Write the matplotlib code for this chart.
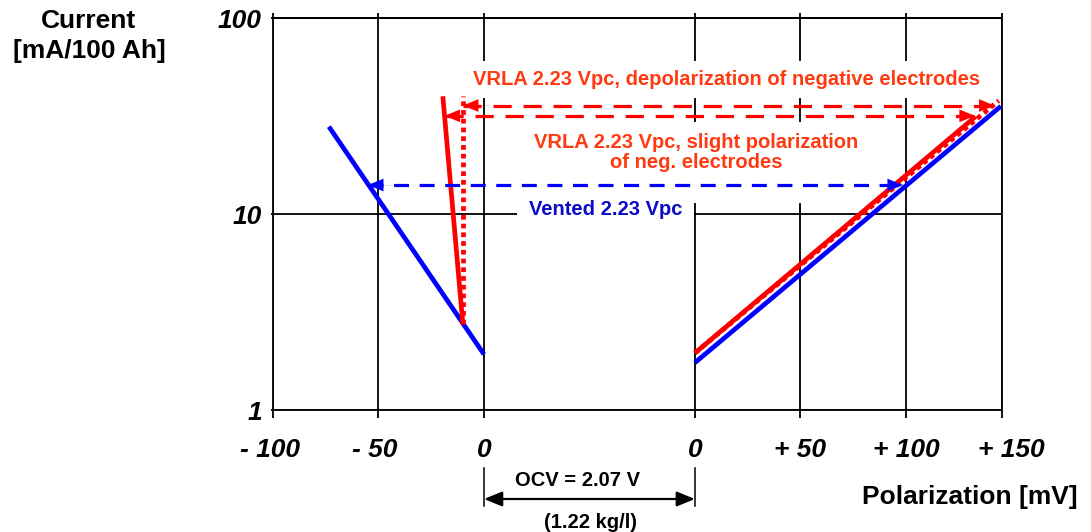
import matplotlib
matplotlib.use("Agg")
import matplotlib.pyplot as plt
import matplotlib.transforms as mtransforms
from matplotlib.lines import Line2D

plt.rcParams['font.family'] = ['Liberation Sans', 'DejaVu Sans']

# Polarization (mV) versus float current (mA per 100 Ah)
# Negative electrode branch (left of OCV) and positive electrode branch (right of OCV)
vented_neg_mv = [-73.5, 0.0]
vented_neg_cur = [28.0, 1.93]
vented_pos_mv = [0.0, 145.0]
vented_pos_cur = [1.75, 35.6]

vrla_depol_neg_mv = [-10.0, -19.5]
vrla_depol_neg_cur = [2.75, 40.0]
vrla_depol_pos_mv = [0.0, 133.0]
vrla_depol_pos_cur = [1.96, 31.5]

vrla_slight_neg_mv = [-10.0, -10.0]
vrla_slight_neg_cur = [2.75, 40.0]
vrla_slight_pos_mv = [0.0, 144.0]
vrla_slight_pos_cur = [1.96, 38.0]

# Double arrows at a float current: (current, negative-side mV, positive-side mV)
vented_arrow = (14.1, -55.0, 98.6)
depol_arrow = (31.8, -18.7, 132.7)
slight_arrow = (35.9, -10.0, 142.0)

neg_ticks = [-100, -50, 0]
pos_ticks = [0, 50, 100, 150]
neg_tick_labels = ['- 100', '- 50', '0']
pos_tick_labels = ['0', '+ 50', '+ 100', '+ 150']
y_ticks = [1, 10, 100]
y_tick_labels = ['1', '10', '100']

# The two electrode scales are drawn side by side, separated by the OCV gap
OCV_GAP = 100.0
POS_END_MV = 145.4

W, H = 1091, 532
BLUE = '#0000FF'
RED = '#FF0000'
RED_TXT = '#FF3A10'
BLUE_TXT = '#0A0ACC'


def pos(mv):
    return [m + OCV_GAP for m in mv]


fig = plt.figure(figsize=(W / 100, H / 100), dpi=100)
ax_l, ax_r, ax_t, ax_b = 273, 1001.7, 18.3, 410.3
ax = fig.add_axes([ax_l / W, 1 - ax_b / H, (ax_r - ax_l) / W, (ax_b - ax_t) / H])
ax.set_yscale('log')
ax.set_xlim(-100, POS_END_MV + OCV_GAP)
ax.set_ylim(1, 100)

grid_x = neg_ticks + pos([0, 50, 100]) + [POS_END_MV + OCV_GAP]
ax.set_xticks(grid_x)
ax.set_xticklabels([])
ax.set_yticks(y_ticks)
ax.yaxis.set_minor_locator(matplotlib.ticker.NullLocator())
ax.set_yticklabels(y_tick_labels, fontsize=19, fontweight='bold', fontstyle='italic')
ax.grid(True, color='black', lw=1.3)
for s in ax.spines.values():
    s.set_linewidth(1.3)
ax.tick_params(axis='x', length=5.8, width=1.3, direction='out')
ax.tick_params(axis='y', length=1.6, width=1.3, pad=6.5, direction='out')

top = ax.secondary_xaxis('top')
top.set_xticks(grid_x)
top.set_xticklabels([])
top.tick_params(length=3.6, width=1.3)
top.spines['top'].set_linewidth(1.3)

# x tick labels for both electrode scales
label_kw = dict(xycoords=('data', 'axes fraction'), textcoords='offset points',
                ha='center', va='baseline', fontsize=19, fontweight='bold',
                fontstyle='italic', annotation_clip=False)
for mv, lab in zip(neg_ticks, neg_tick_labels):
    ax.annotate(lab, xy=(mv, 0), xytext=(-2.5 if mv < 0 else 0, -33.8), **label_kw)
for mv, lab in zip(pos(pos_ticks), pos_tick_labels):
    ax.annotate(lab, xy=(mv, 0), xytext=(0, -33.8), **label_kw)

# characteristic lines
lw = 3.4
dot = (0, (1, 0.85))
ax.plot(vented_neg_mv, vented_neg_cur, color=BLUE, lw=lw, zorder=4, solid_capstyle='butt')
ax.plot(pos(vented_pos_mv), vented_pos_cur, color=BLUE, lw=lw, zorder=4, solid_capstyle='butt')
ax.plot(vrla_slight_neg_mv, vrla_slight_neg_cur, color=RED, lw=lw, ls=dot, zorder=5)
ax.plot(pos(vrla_slight_pos_mv), vrla_slight_pos_cur, color=RED, lw=lw, ls=dot, zorder=5)
ax.plot(vrla_depol_neg_mv, vrla_depol_neg_cur, color=RED, lw=lw, zorder=5, solid_capstyle='butt')
ax.plot(pos(vrla_depol_pos_mv), vrla_depol_pos_cur, color=RED, lw=lw, zorder=5, solid_capstyle='butt')

HEAD = '-|>,head_length=1.1,head_width=0.45'


def double_arrow(spec, color, dashes):
    cur, x0, x1 = spec
    ax.plot([x0, x1 + OCV_GAP], [cur, cur], color=color, lw=2.3,
            ls=(0, dashes), zorder=6)
    for xa, xb in ((x0 + 12, x0), (x1 + OCV_GAP - 12, x1 + OCV_GAP)):
        ax.annotate('', xy=(xb, cur), xytext=(xa, cur),
                    arrowprops=dict(arrowstyle=HEAD, color=color, lw=0.1,
                                    shrinkA=0, shrinkB=0, mutation_scale=10),
                    zorder=6)


double_arrow(vented_arrow, BLUE, (4.7, 3.3))
double_arrow(depol_arrow, RED, (5.7, 3.7))
double_arrow(slight_arrow, RED, (5.7, 3.7))


def ax_pt(px, py):
    return (px - ax_l) / (ax_r - ax_l), (ax_b - py) / (ax_b - ax_t)


txt_kw = dict(transform=ax.transAxes, fontsize=14.5, fontweight='bold', zorder=2)
ax.text(*ax_pt(727, 85), 'VRLA 2.23 Vpc, depolarization of negative electrodes',
        color=RED_TXT, ha='center', va='baseline',
        bbox=dict(boxstyle='square,pad=0.45', fc='white', ec='none'), **txt_kw)
ax.text(*ax_pt(696, 133), 'VRLA 2.23 Vpc, slight polarization\nof neg. electrodes\n',
        color=RED_TXT, ha='center', va='top', linespacing=1.08,
        bbox=dict(boxstyle='square,pad=0.55', fc='white', ec='none'), **txt_kw)
ax.text(*ax_pt(605.5, 215), 'Vented 2.23 Vpc', color=BLUE_TXT, ha='center',
        va='baseline', bbox=dict(boxstyle='square,pad=0.6', fc='white', ec='none'),
        **txt_kw)

# axis titles
fig.text(89 / W, 1 - 9.5 / H, 'Current\n[mA/100 Ah]', ha='center', va='top',
         fontsize=19, fontweight='bold', linespacing=1.28, multialignment='center')
fig.text(1078 / W, 1 - 504 / H, 'Polarization [mV]', ha='right', va='baseline',
         fontsize=19, fontweight='bold')

# open-circuit voltage span between the two zero points
blend = mtransforms.blended_transform_factory(ax.transData, fig.transFigure)
for xv in (0, OCV_GAP):
    fig.add_artist(Line2D([xv, xv], [1 - 468 / H, 1 - 506 / H], transform=blend,
                          color='black', lw=1.1))
ax.annotate('', xy=(0, 1 - 499 / H), xytext=(OCV_GAP, 1 - 499 / H),
            xycoords=blend, textcoords=blend, annotation_clip=False,
            arrowprops=dict(arrowstyle='<|-|>,head_length=1.1,head_width=0.45',
                            color='black', lw=1.6, shrinkA=0, shrinkB=0,
                            mutation_scale=10))
fig.text(577.5 / W, 1 - 486 / H, 'OCV = 2.07 V', ha='center', va='baseline',
         fontsize=14.5, fontweight='bold')
fig.text(590 / W, 1 - 527.7 / H, '(1.22 kg/l)', ha='center', va='baseline',
         fontsize=14.5, fontweight='bold')

fig.savefig('out.png', dpi=100)
